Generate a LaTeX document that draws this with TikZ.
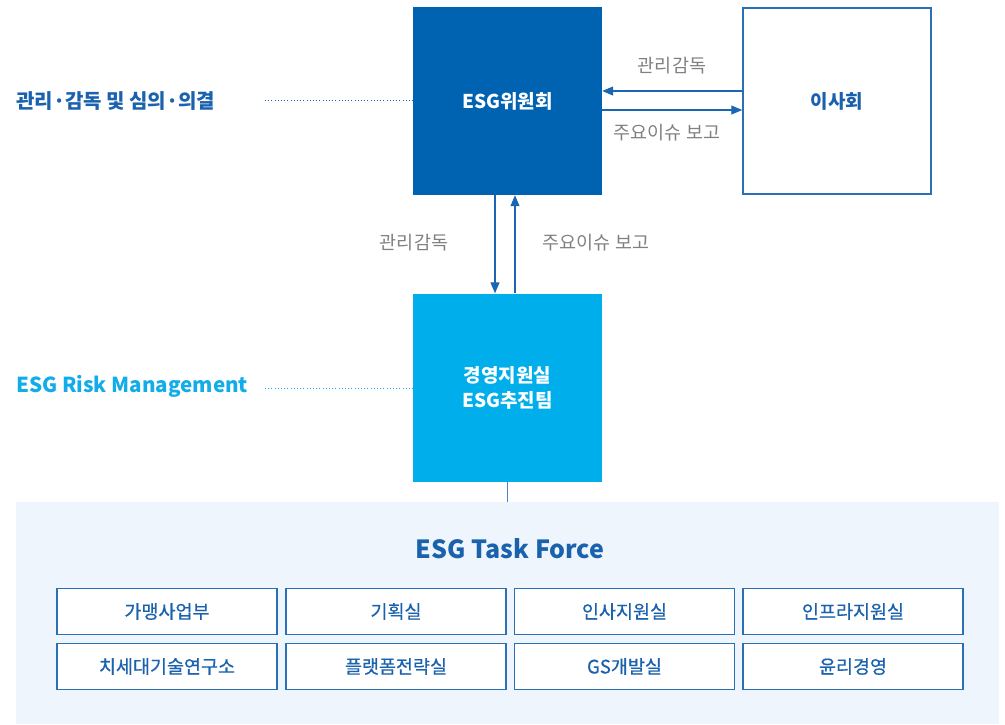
\documentclass[tikz,border=0pt]{standalone}
\usepackage{fontspec}
\setmainfont{Noto Sans CJK KR}
\newfontfamily\medfont{Noto Sans CJK KR}[FakeBold=0.5]
\usetikzlibrary{arrows.meta,positioning}
\definecolor{darkblue}{HTML}{0063B2}
\definecolor{lightblue}{HTML}{00AEEB}
\definecolor{textblue}{HTML}{1A62AD}
\definecolor{lbltext}{HTML}{12ACE8}
\definecolor{graytext}{HTML}{808080}
\definecolor{panelbg}{HTML}{EEF5FC}
\definecolor{boxline}{HTML}{2A70B6}
\definecolor{arrowblue}{HTML}{1A66B3}
\tikzset{
  bigbox/.style={rectangle, minimum width=189pt, minimum height=188pt, inner sep=0pt, align=center, font=\fontsize{19}{24}\selectfont\bfseries},
  unitbox/.style={rectangle, draw=boxline, line width=1.2pt, fill=white, minimum width=220pt, minimum height=46pt, inner sep=0pt, text=textblue, font=\medfont\fontsize{18.5}{20}\selectfont},
  arr/.style={draw=arrowblue, line width=1.1pt, -{Triangle[length=11pt,width=9pt]}},
  conn/.style={draw=arrowblue!80, line width=1pt},
  graylbl/.style={text=graytext, font=\fontsize{18.5}{20}\selectfont, inner sep=0pt},
  dotline/.style={line width=1pt, dash pattern=on 1pt off 2.2pt},
}
\begin{document}
\begin{tikzpicture}[x=1pt,y=-1pt]
\useasboundingbox (0,0) rectangle (1005,724);
% panel
\node[rectangle, fill=panelbg, minimum width=983pt, minimum height=222pt, inner sep=0pt, anchor=north west] (panel) at (16,502) {};
% main boxes
\node[bigbox, fill=darkblue, text=white] (esg) at (507.5,101) {ESG위원회};
\node[bigbox, draw=boxline, line width=1.5pt, fill=white, text=textblue, minimum width=188pt, minimum height=186pt] (board) at (837,101) {이사회};
\node[bigbox, fill=lightblue, text=white, font=\fontsize{19}{25}\selectfont\bfseries] (tf) at (507.5,387.5) {경영지원실\\ESG추진팀};
% horizontal arrows
\draw[arr] ([yshift=10pt]board.west) -- ([yshift=10pt]esg.east);
\draw[arr] ([yshift=-9pt]esg.east) -- ([yshift=-9pt]board.west);
\node[graylbl] (l1) at (672,66) {관리감독};
\node[graylbl] (l2) at (667,133) {주요이슈 보고};
% vertical arrows
\draw[arr] ([xshift=-12.5pt]esg.south) -- ([xshift=-12.5pt]tf.north);
\draw[arr] ([xshift=7.5pt]tf.north) -- ([xshift=7.5pt]esg.south);
\node[graylbl] (l3) at (414,243) {관리감독};
\node[graylbl] (l4) at (596,243) {주요이슈 보고};
% connector to panel
\draw[conn] (tf.south) -- (tf.south |- panel.north);
% left labels
\node[anchor=west, inner sep=0pt, text=textblue, font=\fontsize{20}{22}\selectfont\bfseries] (gov) at (16,101) {관리·감독 및 심의·의결};
\node[anchor=west, inner sep=0pt, text=lbltext, font=\fontsize{20.6}{22}\selectfont\bfseries] (risk) at (16,386) {ESG Risk Management};
\coordinate (d1) at (265,100);
\coordinate (d2) at (265,388);
\draw[dotline, draw=textblue] (d1) -- (d1 -| esg.west);
\draw[dotline, draw=lbltext] (d2) -- (d2 -| tf.west);
% task force
\node[text=textblue, font=\fontsize{25}{28}\selectfont\bfseries, inner sep=0pt] (tft) at (510,549) {ESG Task Force};
\node[unitbox] (u1) at (167,611.5) {가맹사업부};
\node[unitbox] (u2) at (396,611.5) {기획실};
\node[unitbox] (u3) at (624.5,611.5) {인사지원실};
\node[unitbox] (u4) at (853,611.5) {인프라지원실};
\node[unitbox] (u5) at (167,666.5) {치세대기술연구소};
\node[unitbox] (u6) at (396,666.5) {플랫폼전략실};
\node[unitbox] (u7) at (624.5,666.5) {GS개발실};
\node[unitbox] (u8) at (853,666.5) {윤리경영};
\end{tikzpicture}
\end{document}
